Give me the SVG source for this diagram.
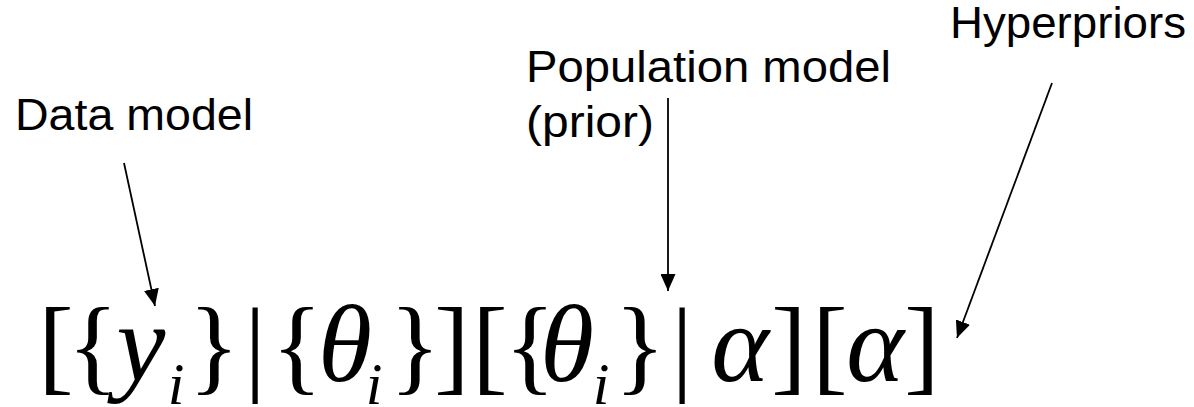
<svg xmlns="http://www.w3.org/2000/svg" width="1194" height="407" viewBox="0 0 1194 407">
<defs>
<style>
.lbl{font-family:"Liberation Sans",Arial,sans-serif;font-size:45px;fill:#000}
.m{font-family:"Liberation Serif","Times New Roman",serif;font-size:106px;fill:#000;text-anchor:middle}
.mi{font-style:italic;font-size:110px}
.sub{font-family:"Liberation Serif","Times New Roman",serif;font-size:60px;font-style:italic;fill:#000;text-anchor:middle}
.con{stroke:#000;stroke-width:1.8;fill:none;marker-end:url(#ah)}
</style>
<marker id="ah" markerUnits="userSpaceOnUse" markerWidth="17" markerHeight="15" refX="17" refY="7.5" orient="auto">
<path d="M0,0 L17,7.5 L0,15 z" fill="#000"/>
</marker>
</defs>
<rect width="1194" height="407" fill="#fff"/>
<g id="label-data">
<text class="lbl" x="15" y="130" textLength="238" lengthAdjust="spacingAndGlyphs">Data model</text>
</g>
<g id="label-population">
<text class="lbl" x="526" y="82" textLength="365" lengthAdjust="spacingAndGlyphs">Population model</text>
<text class="lbl" x="526" y="137" textLength="128" lengthAdjust="spacingAndGlyphs">(prior)</text>
</g>
<g id="label-hyper">
<text class="lbl" x="950" y="38" textLength="236" lengthAdjust="spacingAndGlyphs">Hyperpriors</text>
</g>
<g id="formula">
<text class="m" x="56" y="381">[</text>
<text class="m" x="93" y="381">{</text>
<text class="m mi" x="141" y="381">y</text>
<text class="sub" x="176" y="404">i</text>
<text class="m" x="214" y="381">}</text>
<text class="m" x="255" y="381">|</text>
<text class="m" x="297" y="381">{</text>
<text class="m mi" x="345" y="381">θ</text>
<text class="sub" x="374" y="404">i</text>
<text class="m" x="415" y="381">}</text>
<text class="m" x="452" y="381">]</text>
<text class="m" x="490" y="381">[</text>
<text class="m" x="530" y="381">{</text>
<text class="m mi" x="567" y="381">θ</text>
<text class="sub" x="601" y="404">i</text>
<text class="m" x="640" y="381">}</text>
<text class="m" x="682" y="381">|</text>
<text class="m mi" x="740" y="381">α</text>
<text class="m" x="789" y="381">]</text>
<text class="m" x="830" y="381">[</text>
<text class="m mi" x="875" y="381">α</text>
<text class="m" x="922" y="381">]</text>
</g>
<g id="connectors">
<line class="con" x1="124" y1="163" x2="155" y2="306"/>
<line class="con" x1="668" y1="98" x2="668" y2="291"/>
<line class="con" x1="1052" y1="83" x2="957" y2="338"/>
</g>
</svg>
